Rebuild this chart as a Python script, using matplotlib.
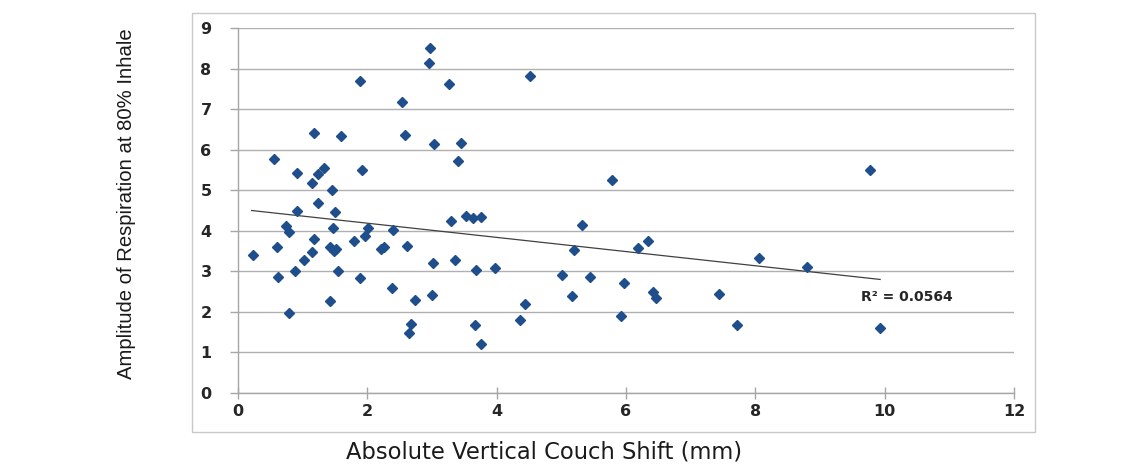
import matplotlib
matplotlib.use("Agg")
import matplotlib.pyplot as plt
from matplotlib.patches import Rectangle
import numpy as np

# Data
shift_mm = [0.23, 0.56, 0.60, 0.62, 0.74, 0.79, 0.79, 0.88, 0.91, 0.92,
            1.02, 1.15, 1.17, 1.15, 1.18, 1.23, 1.24, 1.33, 1.46, 1.42,
            1.42, 1.50, 1.47, 1.48, 1.51, 1.55, 1.60, 1.80, 1.88, 1.89,
            1.92, 1.97, 2.01, 2.21, 2.25, 2.38, 2.39, 2.54, 2.58, 2.62,
            2.65, 2.68, 2.74, 2.95, 2.97, 3.00, 3.02, 3.03, 3.26, 3.29,
            3.35, 3.40, 3.45, 3.53, 3.63, 3.75, 3.66, 3.68, 3.76, 3.98,
            4.36, 4.44, 4.52, 5.01, 5.17, 5.20, 5.32, 5.44, 5.79, 5.92,
            5.97, 6.19, 6.34, 6.41, 6.46, 7.44, 7.71, 8.06, 8.80, 9.78,
            9.93]
amplitude = [3.41, 5.76, 3.60, 2.86, 4.13, 3.96, 1.98, 3.02, 4.48, 5.43,
             3.27, 3.47, 3.79, 5.18, 6.41, 4.68, 5.40, 5.55, 5.00, 3.61,
             2.26, 4.46, 4.07, 3.50, 3.55, 3.00, 6.34, 3.74, 2.83, 7.70,
             5.50, 3.86, 4.07, 3.55, 3.60, 2.58, 4.03, 7.17, 6.35, 3.63,
             1.47, 1.71, 2.30, 8.13, 8.51, 2.42, 3.20, 6.13, 7.61, 4.25,
             3.27, 5.71, 6.17, 4.37, 4.32, 4.33, 1.67, 3.04, 1.22, 3.09,
             1.80, 2.19, 7.81, 2.90, 2.39, 3.52, 4.15, 2.86, 5.26, 1.91,
             2.72, 3.57, 3.75, 2.50, 2.35, 2.44, 1.67, 3.33, 3.10, 5.50,
             1.61]
trend_x = [0.21, 9.93]
trend_y = [4.50, 2.80]
r2_label = "R² = 0.0564"
x_ticks = [0, 2, 4, 6, 8, 10, 12]
y_ticks = [0, 1, 2, 3, 4, 5, 6, 7, 8, 9]

W, H = 1138, 465
fig = plt.figure(figsize=(W / 100, H / 100), dpi=100)
fig.patch.set_facecolor("white")

# outer chart frame
fig.patches.append(Rectangle((192 / W, 1 - 432 / H), (1035 - 192) / W, (432 - 13) / H,
                             transform=fig.transFigure, fill=False,
                             edgecolor="#C8C8C8", lw=1.0, zorder=0))

ax = fig.add_axes([238 / W, 1 - 393 / H, (1014 - 238) / W, (393 - 28) / H])
ax.set_xlim(0, 12)
ax.set_ylim(0, 9)

for s in ["top", "right"]:
    ax.spines[s].set_visible(False)
for s in ["left", "bottom"]:
    ax.spines[s].set_color("#A6A6A6")
    ax.spines[s].set_linewidth(1.0)

ax.set_xticks(x_ticks)
ax.set_yticks(y_ticks)
ax.yaxis.grid(True, color="#B0B0B0", lw=1.0)
ax.set_axisbelow(True)

tick_font = dict(family="DejaVu Sans", weight="bold", size=11.5)
ax.set_xticklabels([str(v) for v in x_ticks], fontdict=tick_font, color="#262626")
ax.set_yticklabels([str(v) for v in y_ticks], fontdict=tick_font, color="#262626")
ax.tick_params(axis="x", direction="inout", length=8, width=1, color="#A6A6A6", pad=4)
ax.tick_params(axis="y", direction="out", length=6, width=1, color="#A6A6A6", pad=13)

ax.plot(shift_mm, amplitude, linestyle="none", marker="D", markersize=5.2,
        color="#1F4E8C", markeredgecolor="#1F4E8C", zorder=3)
ax.plot(trend_x, trend_y, color="#404040", lw=0.9, zorder=2)
ax.text(9.64, 2.36, r2_label, fontsize=10, fontfamily="DejaVu Sans",
        fontweight="bold", color="#262626", va="center", ha="left")

fig.text(127 / W, 1 - 204 / H, "Amplitude of Respiration at 80% Inhale",
         rotation=90, ha="center", va="center", fontsize=14.6,
         family=["Liberation Sans", "DejaVu Sans"], color="#1A1A1A")
fig.text(544 / W, 1 - 452 / H, "Absolute Vertical Couch Shift (mm)",
         ha="center", va="center", fontsize=16.3,
         family=["DejaVu Sans"], color="#1A1A1A")

fig.savefig("out.png", dpi=100, facecolor="white")
